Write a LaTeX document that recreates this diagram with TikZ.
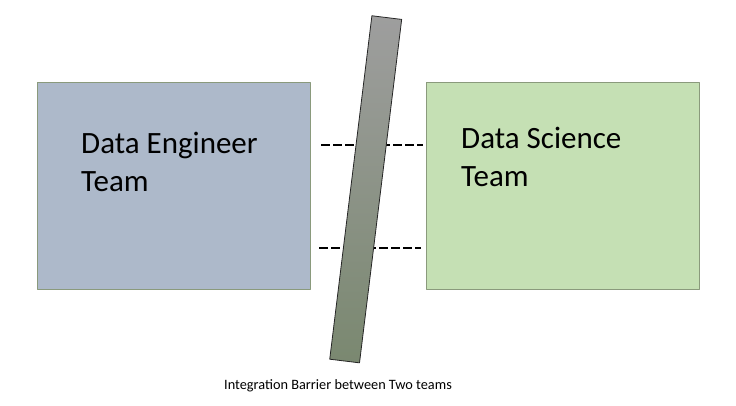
\documentclass[tikz,border=0pt]{standalone}
\usepackage{fontspec}
\setmainfont{Carlito}
\definecolor{engfill}{HTML}{ADB9CA}
\definecolor{scifill}{HTML}{C5E0B4}
\definecolor{boxline}{HTML}{8A9A7C}
\definecolor{bartop}{HTML}{9E9E9E}
\definecolor{barbot}{HTML}{7A8870}
\begin{document}
\begin{tikzpicture}[x=1pt,y=-1pt, line join=round,
	team/.style={draw=boxline, line width=0.8pt, minimum width=273pt, minimum height=207pt, inner sep=0pt},
	label/.style={font=\fontsize{31}{38}\selectfont, align=left, anchor=north west, inner sep=0pt},
	gap/.style={line width=2.2pt, dash pattern=on 9pt off 3pt}]
\useasboundingbox (0,0) rectangle (736,405);
% hai nhom
\node[team, fill=engfill, anchor=north west] (eng) at (37,82) {};
\node[team, fill=scifill, anchor=north west] (sci) at (426,82) {};
\node[label] (engtxt) at (81,132) {Data Engineer\\Team};
\node[label] (scitxt) at (461,127) {Data Science\\Team};
% duong noi
\coordinate (a1) at (321,145); \coordinate (b1) at (423,145);
\coordinate (a2) at (319,248); \coordinate (b2) at (421,248);
\draw[gap] (a1)--(b1);
\draw[gap] (a2)--(b2);
% rao chan
\node[draw=black!85, line width=0.8pt, rotate=-7, minimum width=30pt, minimum height=346pt, inner sep=0pt,
	top color=bartop, bottom color=barbot] (wall) at (365.7,189.3) {};
\node[font=\fontsize{14.3}{16}\selectfont] (cap) at (338,386) {Integration Barrier between Two teams};
\end{tikzpicture}
\end{document}
